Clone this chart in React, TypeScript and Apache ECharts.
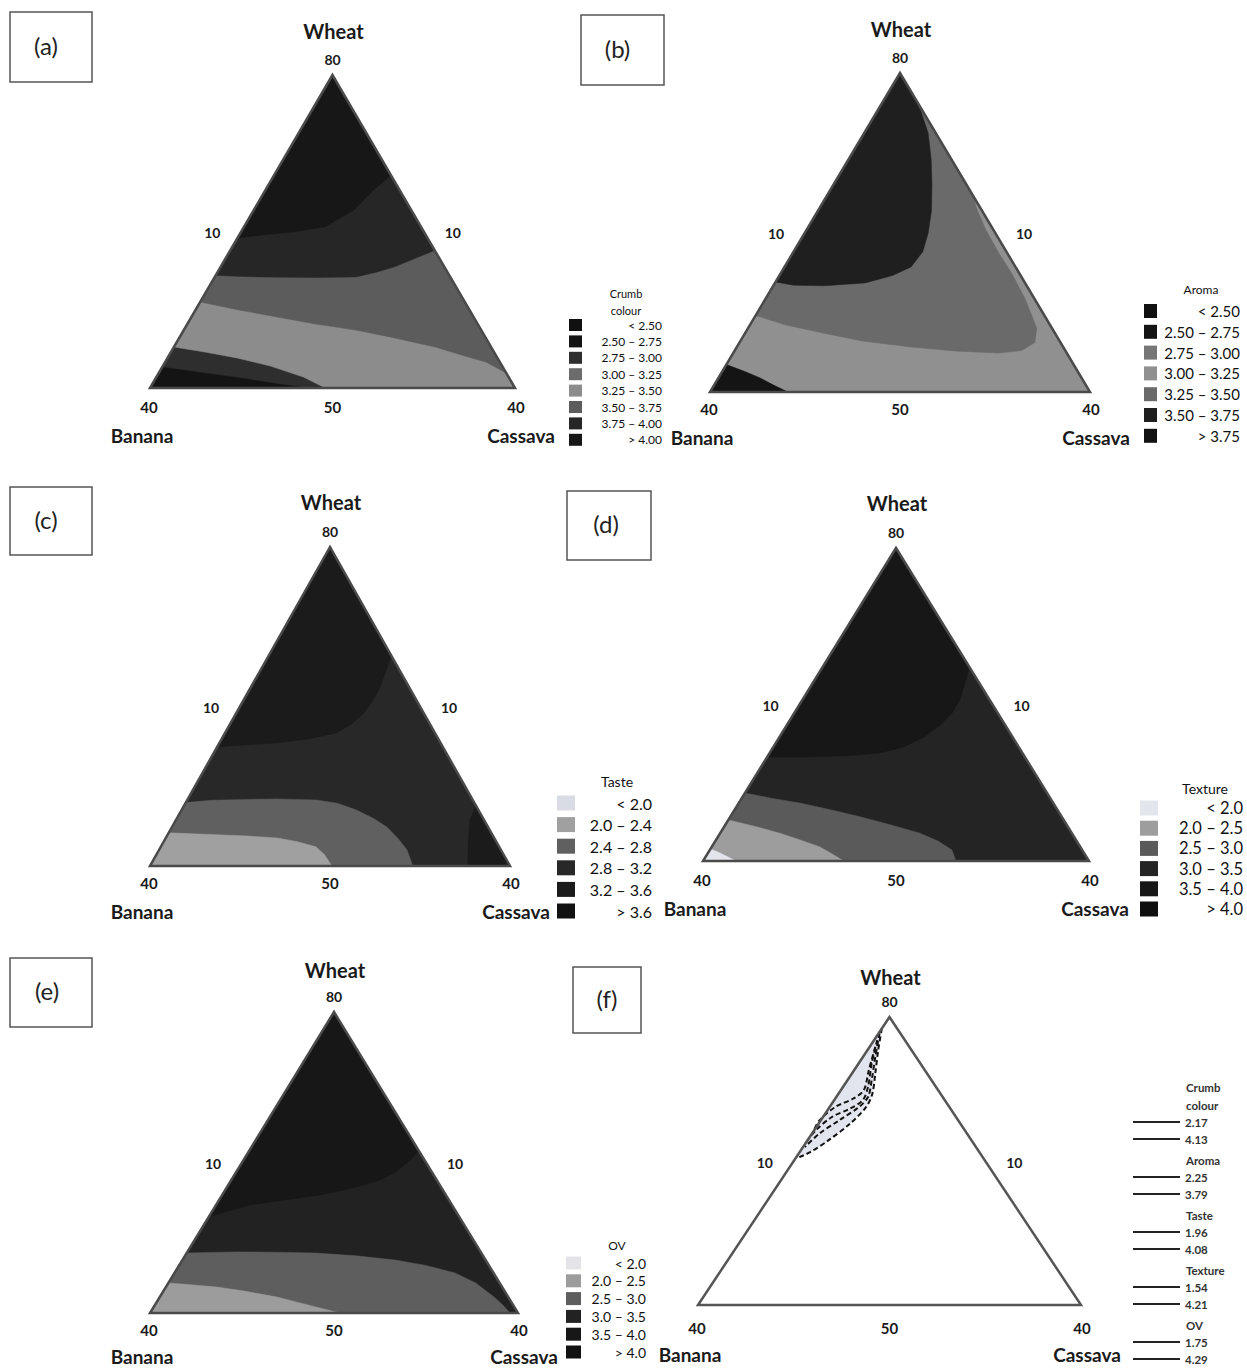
import React, { useEffect, useRef } from "react";
import * as echarts from "echarts";

// ---------- DATA ----------
const panelLetters = ["(a)", "(b)", "(c)", "(d)", "(e)", "(f)"];
const vertexNames = ["Wheat", "Banana", "Cassava"];
const cornerTicks = ["80", "40", "40"];
const sideTicks = ["10", "10"];
const baseTick = "50";

// legend classes and colours
const crumbLabels = ["< 2.50", "2.50 – 2.75", "2.75 – 3.00", "3.00 – 3.25", "3.25 – 3.50", "3.50 – 3.75", "3.75 – 4.00", "> 4.00"];
const crumbColors = ["#101010", "#141414", "#2e2e2e", "#6c6c6c", "#8c8c8c", "#5c5c5c", "#262626", "#171717"];
const aromaLabels = ["< 2.50", "2.50 – 2.75", "2.75 – 3.00", "3.00 – 3.25", "3.25 – 3.50", "3.50 – 3.75", "> 3.75"];
const aromaColors = ["#111111", "#141414", "#767676", "#909090", "#6a6a6a", "#1f1f1f", "#121212"];
const tasteLabels = ["< 2.0", "2.0 – 2.4", "2.4 – 2.8", "2.8 – 3.2", "3.2 – 3.6", "> 3.6"];
const tasteColors = ["#d9dce4", "#a0a0a0", "#606060", "#282828", "#1b1b1b", "#121212"];
const textureLabels = ["< 2.0", "2.0 – 2.5", "2.5 – 3.0", "3.0 – 3.5", "3.5 – 4.0", "> 4.0"];
const textureColors = ["#e3e5ec", "#9d9d9d", "#5a5a5a", "#242424", "#171717", "#0f0f0f"];
const ovLabels = ["< 2.0", "2.0 – 2.5", "2.5 – 3.0", "3.0 – 3.5", "3.5 – 4.0", "> 4.0"];
const ovColors = ["#e4e4e8", "#9c9c9c", "#5e5e5e", "#222222", "#171717", "#111111"];
const legendTitles = [["Crumb", "colour"], ["Aroma"], ["Taste"], ["Texture"], ["OV"]];

// contour regions, [horizontal %, height %] inside each triangle, painted in order
const crumbRegionClass = [1, 2, 4, 5, 6, 7];
const crumbRegionPts = [
  [[0, 0], [100, 0], [50, 100]],
  [[3.4, 6.8], [13.7, 5.1], [23.8, 3.5], [34.2, 1.6], [43.8, 0], [100, 0], [50, 100]],
  [[6.6, 13.1], [15, 11.5], [23.8, 9.6], [33, 7], [42, 3.5], [48, 0], [100, 0], [50, 100]],
  [[13.8, 27.5], [24, 25], [34.8, 22.7], [45, 20.5], [56.4, 18.5], [67, 16], [78.1, 13.1], [86, 10.3], [92, 8.3], [97.6, 4.8], [50, 100]],
  [[18, 36], [24, 35.7], [30, 35.5], [45, 35.3], [56.4, 35.5], [62, 37], [67, 38.7], [73.7, 41.9], [78, 44], [50, 100]],
  [[24, 48], [30, 48.8], [40, 50], [48, 51.5], [56, 57], [61, 63], [66, 68], [50, 100]],
];
const aromaRegionClass = [3, 1, 4, 5];
const aromaRegionPts = [
  [[0, 0], [100, 0], [50, 100]],
  [[0, 0], [4.3, 8.6], [9, 6.5], [13.2, 4.4], [17, 2], [20.5, 0]],
  [[12, 24], [20, 21], [29.7, 18.5], [40, 16], [52.9, 14.1], [65, 12.8], [75.8, 12.2], [82, 13], [85.5, 15.5], [86, 20], [83, 29], [79.5, 37], [76, 43.6], [72.5, 51], [70, 58], [69.5, 61], [50, 100]],
  [[17.2, 34.5], [22, 33.5], [30, 33.3], [40.8, 34.2], [48, 36.5], [52.9, 39.2], [56, 44], [57.4, 49.8], [58.3, 57], [58.4, 65.5], [58.2, 73], [57.4, 81.2], [55.5, 88], [52.9, 94.5], [50, 100]],
];
const tasteRegionClass = [3, 4, 4, 2, 1];
const tasteRegionPts = [
  [[0, 0], [100, 0], [50, 100]],
  [[88.3, 0], [100, 0], [90.5, 19], [88.8, 14], [88.4, 7]],
  [[18.6, 37.3], [27, 38], [35.3, 38.6], [44, 39.8], [51.7, 41.7], [56, 44.5], [59.4, 48], [62, 52], [63.9, 56.1], [65.5, 61], [67, 66], [50, 100]],
  [[0, 0], [10, 19.9], [17, 20.6], [24.2, 20.8], [35, 21], [46.1, 20.7], [52, 19.7], [57.2, 17.6], [62, 15], [65.8, 12.2], [69, 8.5], [71.4, 5], [73, 0]],
  [[0, 0], [5.2, 10.4], [12, 10.1], [18.8, 9.8], [27, 9.4], [35.3, 8.8], [41, 7.6], [46.1, 6], [48.5, 3.5], [50.5, 0]],
];
const textureRegionClass = [3, 4, 2, 1, 0];
const textureRegionPts = [
  [[0, 0], [100, 0], [50, 100]],
  [[16.6, 33.2], [23, 33.2], [30.3, 33.3], [38, 33.7], [45.9, 34.5], [52, 36.5], [57.3, 39.6], [61.5, 43.5], [64.5, 47.3], [66.5, 51.5], [67.6, 55.6], [69, 62], [50, 100]],
  [[0, 0], [10.9, 21.7], [18, 20], [25.1, 18.5], [33, 16.4], [40.7, 14.1], [48.5, 11.6], [56.2, 8.9], [61, 6.3], [64.5, 3.5], [65.5, 0]],
  [[0, 0], [6.6, 13.1], [13, 11.2], [19.9, 8.9], [25, 6.8], [30.3, 4.5], [33.5, 2.2], [36.5, 0]],
  [[0, 0], [1.9, 3.8], [4, 2.8], [6.5, 1.3], [8.5, 0]],
];
const ovRegionClass = [3, 4, 2, 1];
const ovRegionPts = [
  [[0, 0], [100, 0], [50, 100]],
  [[16, 32], [27.2, 35.9], [36, 37.5], [46.2, 39.2], [55, 41.5], [62.5, 44.2], [67, 47], [70.7, 50.8], [73, 54], [50, 100]],
  [[0, 0], [9.9, 19.9], [16, 20.1], [23.6, 20.3], [34, 20.2], [45.1, 19.9], [56, 19], [66.6, 17.6], [75, 15.8], [82.9, 13.3], [88.5, 10], [93.5, 5.3], [96, 2.5], [97.8, 0]],
  [[0, 0], [5, 10], [11, 9.4], [18.2, 8.6], [26, 7.2], [34.5, 5.3], [40, 3.6], [45.1, 2], [51.6, 0]],
];

// overlaid optimum (f)
const optimumShade = [[49, 98], [48, 96], [47.05, 88.5], [46.29, 80.37], [45.54, 73.4], [43.93, 68.76], [39.68, 62.95], [34.02, 57.14], [29.29, 53.08], [26.46, 51.33], [25.67, 51.33]];
const optimumCurves = [
  [[48, 96], [47.05, 88.5], [46.29, 80.37], [45.54, 73.4], [43.93, 68.76], [39.68, 62.95], [34.02, 57.14], [29.29, 53.08], [26.46, 51.33]],
  [[47.4, 94.3], [46.3, 86.2], [45.35, 78.05], [44.4, 72.24], [42.04, 68.76], [36.85, 64.11], [31.65, 59.47], [27.88, 54.82]],
  [[46.8, 92], [45.35, 83.86], [44.4, 75.73], [43, 71.08], [39.68, 68.18], [34.96, 65.27], [30.71, 60.63], [28.3, 56.6]],
  [[46.3, 89.7], [44.6, 81.5], [43.3, 74.6], [40.6, 71.7], [35.9, 68.8], [31.7, 64.1], [30, 60]],
];
const optimumNames = [["Crumb", "colour"], ["Aroma"], ["Taste"], ["Texture"], ["OV"]];
const optimumLow = ["2.17", "2.25", "1.96", "1.54", "1.75"];
const optimumHigh = ["4.13", "3.79", "4.08", "4.21", "4.29"];

// ---------- LAYOUT ----------
const FONT = "Lato, 'Open Sans', sans-serif";
const GRIDS = [
  { left: 150, top: 75, width: 365, height: 313 },
  { left: 710, top: 73, width: 380, height: 319 },
  { left: 150, top: 547, width: 360, height: 319 },
  { left: 703, top: 548, width: 386, height: 313 },
  { left: 150, top: 1012, width: 368, height: 301 },
  { left: 698, top: 1017, width: 383, height: 288 },
];
const FRAME = [
  { wheatDy: 44, tickDy: 19, nameDy: 47 },
  { wheatDy: 44, tickDy: 17, nameDy: 45 },
  { wheatDy: 45, tickDy: 17, nameDy: 45 },
  { wheatDy: 45, tickDy: 19, nameDy: 47 },
  { wheatDy: 42, tickDy: 17, nameDy: 43 },
  { wheatDy: 40, tickDy: 23, nameDy: 49 },
];
// x, y, w, h, text x offset
const BOXES = [
  [10, 12, 82, 70, -5],
  [581, 15, 83, 70, -5],
  [10, 487, 82, 68, -5],
  [567, 491, 84, 69, -3],
  [10, 958, 82, 69, -4],
  [573, 967, 68, 66, 0],
];
const LEGENDS = [
  { sqX: 569, sqW: 13, sqH: 12, y0: 325, dy: 16.4, textRight: 662, size: 12, titleX: 626, titleY0: 293, titleDy: 17, titleSize: 11 },
  { sqX: 1144, sqW: 13, sqH: 14, y0: 311, dy: 20.8, textRight: 1240, size: 15, titleX: 1201, titleY0: 289, titleDy: 17, titleSize: 12 },
  { sqX: 557, sqW: 18, sqH: 15, y0: 803, dy: 21.6, textRight: 652, size: 16, titleX: 617, titleY0: 781, titleDy: 17, titleSize: 14 },
  { sqX: 1140, sqW: 18, sqH: 15, y0: 808, dy: 20.2, textRight: 1243, size: 16.5, titleX: 1205, titleY0: 788, titleDy: 17, titleSize: 14 },
  { sqX: 566, sqW: 15, sqH: 13, y0: 1263, dy: 17.8, textRight: 646, size: 14, titleX: 617, titleY0: 1245, titleDy: 17, titleSize: 12 },
];

const panelRegions = [
  { pts: crumbRegionPts, cls: crumbRegionClass, colors: crumbColors, labels: crumbLabels },
  { pts: aromaRegionPts, cls: aromaRegionClass, colors: aromaColors, labels: aromaLabels },
  { pts: tasteRegionPts, cls: tasteRegionClass, colors: tasteColors, labels: tasteLabels },
  { pts: textureRegionPts, cls: textureRegionClass, colors: textureColors, labels: textureLabels },
  { pts: ovRegionPts, cls: ovRegionClass, colors: ovColors, labels: ovLabels },
];

function textEl(x: number, y: number, text: string, size: number, align: string, weight = "normal", fill = "#1a1a1a") {
  return {
    type: "text",
    x,
    y,
    style: {
      text,
      font: `${weight} ${size}px ${FONT}`,
      fill,
      textAlign: align,
      textVerticalAlign: "middle",
      align,
      verticalAlign: "middle",
    },
  };
}

function buildOption() {
  const grid = GRIDS.map((g) => ({ ...g }));
  const xAxis = GRIDS.map((_, i) => ({ type: "value", gridIndex: i, min: 0, max: 100, show: false }));
  const yAxis = GRIDS.map((_, i) => ({ type: "value", gridIndex: i, min: 0, max: 100, show: false }));
  const series: any[] = [];

  panelRegions.forEach((pr, p) => {
    series.push({
      type: "custom",
      coordinateSystem: "cartesian2d",
      xAxisIndex: p,
      yAxisIndex: p,
      silent: true,
      data: pr.pts.map((_, i) => [50, 50, i]),
      encode: { x: 0, y: 1 },
      renderItem: (params: any, api: any) => {
        const pts = pr.pts[params.dataIndex].map((pt) => api.coord(pt));
        const c = pr.colors[pr.cls[params.dataIndex]];
        return {
          type: "polygon",
          shape: { points: pts },
          style: { fill: c, stroke: c, lineWidth: 0.5 },
        };
      },
    });
  });

  // (f) shaded optimum
  series.push({
    type: "custom",
    coordinateSystem: "cartesian2d",
    xAxisIndex: 5,
    yAxisIndex: 5,
    silent: true,
    data: [[50, 50]],
    encode: { x: 0, y: 1 },
    renderItem: (_params: any, api: any) => ({
      type: "polygon",
      shape: { points: optimumShade.map((pt) => api.coord(pt)), smooth: 0.2 },
      style: { fill: "#e2e4ee" },
    }),
  });
  series.push({
    type: "custom",
    coordinateSystem: "cartesian2d",
    xAxisIndex: 5,
    yAxisIndex: 5,
    silent: true,
    data: optimumCurves.map((_, i) => [50, 50, i]),
    encode: { x: 0, y: 1 },
    renderItem: (params: any, api: any) => ({
      type: "polyline",
      shape: { points: optimumCurves[params.dataIndex].map((pt) => api.coord(pt)), smooth: 0.3 },
      style: { stroke: "#111", lineWidth: 2, lineDash: [5, 3], fill: null },
    }),
  });

  // frames + ternary labels
  GRIDS.forEach((_, p) => {
    const f = FRAME[p];
    series.push({
      type: "custom",
      coordinateSystem: "cartesian2d",
      xAxisIndex: p,
      yAxisIndex: p,
      silent: true,
      data: [[50, 50]],
      encode: { x: 0, y: 1 },
      renderItem: (_params: any, api: any) => {
        const A = api.coord([50, 100]);
        const L = api.coord([0, 0]);
        const R = api.coord([100, 0]);
        const lm = api.coord([25, 50]);
        const rm = api.coord([75, 50]);
        const bm = api.coord([50, 0]);
        return {
          type: "group",
          children: [
            {
              type: "polygon",
              shape: { points: [A, L, R] },
              style: { fill: null, stroke: p === 5 ? "#555" : "#4a4a4a", lineWidth: 2.5, lineJoin: "miter" },
            },
            textEl(A[0] + 1, A[1] - f.wheatDy, vertexNames[0], 20, "center", "bold"),
            textEl(A[0], A[1] - 16, cornerTicks[0], 14, "center", "bold"),
            textEl(lm[0] - 29, lm[1] + 1, sideTicks[0], 14, "center", "bold"),
            textEl(rm[0] + 29, rm[1] + 1, sideTicks[1], 14, "center", "bold"),
            textEl(L[0] - 1, L[1] + f.tickDy, cornerTicks[1], 15, "center", "bold"),
            textEl(bm[0], bm[1] + f.tickDy, baseTick, 15, "center", "bold"),
            textEl(R[0] + 1, R[1] + f.tickDy, cornerTicks[2], 15, "center", "bold"),
            textEl(L[0] - 8, L[1] + f.nameDy, vertexNames[1], 19, "center", "bold"),
            textEl(R[0] + 6, R[1] + f.nameDy, vertexNames[2], 19, "center", "bold"),
          ],
        };
      },
    });
  });

  // graphic: letter boxes + legends
  const graphic: any[] = [];
  BOXES.forEach((b, i) => {
    graphic.push({
      type: "rect",
      shape: { x: b[0], y: b[1], width: b[2], height: b[3] },
      style: { fill: "#fff", stroke: "#555", lineWidth: 1.5 },
    });
    graphic.push(textEl(b[0] + b[2] / 2 + b[4], b[1] + b[3] / 2 - 2, panelLetters[i], 24, "center", "normal", "#222"));
  });

  panelRegions.forEach((pr, p) => {
    const lg = LEGENDS[p];
    legendTitles[p].forEach((t, k) => {
      graphic.push(textEl(lg.titleX, lg.titleY0 + k * lg.titleDy, t, lg.titleSize, "center", "normal", "#111"));
    });
    pr.labels.forEach((lab, i) => {
      const cy = lg.y0 + i * lg.dy;
      graphic.push({
        type: "rect",
        shape: { x: lg.sqX, y: cy - lg.sqH / 2, width: lg.sqW, height: lg.sqH },
        style: { fill: pr.colors[i] },
      });
      graphic.push(textEl(lg.textRight, cy, lab, lg.size, "right", "normal", "#111"));
    });
  });

  // (f) legend
  let y = 1087;
  optimumNames.forEach((nm, i) => {
    nm.forEach((t) => {
      graphic.push(textEl(1186, y, t, 11.5, "left", "bold", "#333"));
      y += 18;
    });
    y -= 1;
    [optimumLow[i], optimumHigh[i]].forEach((v) => {
      graphic.push({ type: "line", shape: { x1: 1133, y1: y, x2: 1180, y2: y }, style: { stroke: "#222", lineWidth: 2 } });
      graphic.push(textEl(1185, y, v, 11.5, "left", "bold", "#333"));
      y += 17;
    });
    y += 4;
  });

  return {
    animation: false,
    backgroundColor: "#ffffff",
    grid,
    xAxis,
    yAxis,
    series,
    graphic,
  };
}

export default function App() {
  const ref = useRef<HTMLDivElement>(null);
  useEffect(() => {
    document.body.style.margin = "0";
    const chart = echarts.init(ref.current!, undefined, { renderer: "svg" });
    chart.setOption(buildOption() as any);
    return () => chart.dispose();
  }, []);
  return <div ref={ref} style={{ width: 1247, height: 1368, background: "#fff" }} />;
}
